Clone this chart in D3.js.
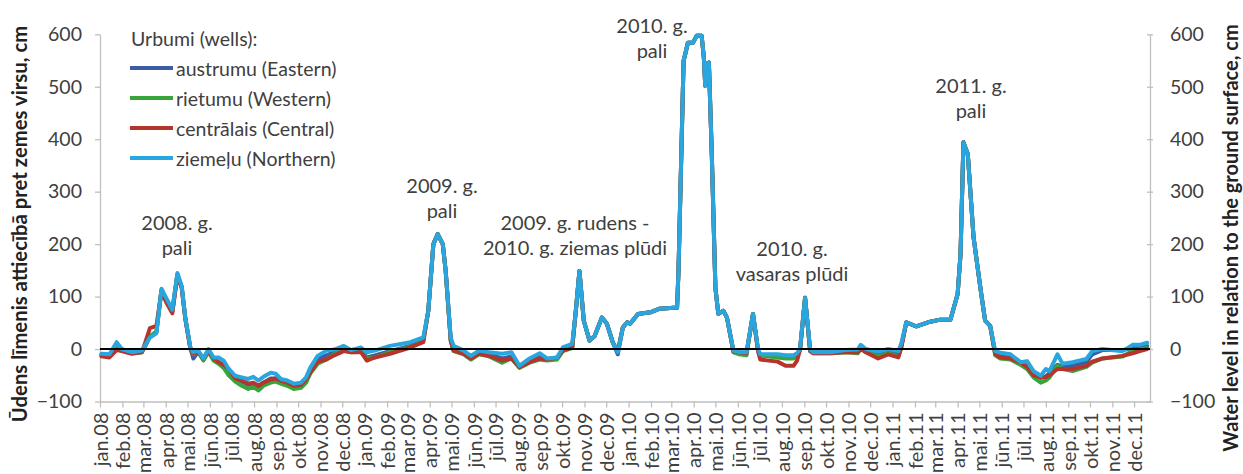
<!DOCTYPE html>
<html>
<head>
<meta charset="utf-8">
<script src="https://cdn.jsdelivr.net/npm/d3@7"></script>
<style>
  html, body { margin: 0; padding: 0; background: #ffffff; }
  svg { display: block; font-family: Lato, "Open Sans", sans-serif; }
</style>
</head>
<body>
<svg id="chart" width="1243" height="474"></svg>
<script>
// ---------------- DATA ----------------
const dates = [
  "2008-01-03","2008-01-14","2008-01-24","2008-01-31","2008-02-14","2008-02-28","2008-03-03","2008-03-10","2008-03-19","2008-03-26",
  "2008-04-02","2008-04-10","2008-04-17","2008-04-23","2008-04-28","2008-05-05","2008-05-09","2008-05-16","2008-05-23","2008-05-30",
  "2008-06-06","2008-06-13","2008-06-20","2008-06-27","2008-07-06","2008-07-15","2008-07-24","2008-07-31","2008-08-07","2008-08-14",
  "2008-08-24","2008-08-31","2008-09-07","2008-09-16","2008-09-25","2008-10-05","2008-10-12","2008-10-18","2008-10-28","2008-11-09",
  "2008-11-20","2008-12-03","2008-12-13","2008-12-27","2009-01-04","2009-01-15","2009-02-05","2009-03-05","2009-03-23","2009-03-30",
  "2009-04-06","2009-04-12","2009-04-19","2009-04-23","2009-04-30","2009-05-04","2009-05-18","2009-05-28","2009-06-08","2009-06-22",
  "2009-07-10","2009-07-23","2009-08-03","2009-08-17","2009-08-31","2009-09-10","2009-09-24","2009-10-02","2009-10-15","2009-10-20",
  "2009-10-25","2009-10-31","2009-11-08","2009-11-15","2009-11-25","2009-12-02","2009-12-10","2009-12-17","2009-12-24","2009-12-30",
  "2010-01-03","2010-01-14","2010-01-31","2010-02-13","2010-03-09","2010-03-11","2010-03-16","2010-03-18","2010-03-24","2010-03-31",
  "2010-04-05","2010-04-12","2010-04-15","2010-04-17","2010-04-19","2010-04-22","2010-04-26","2010-05-01","2010-05-05","2010-05-12",
  "2010-05-17","2010-05-26","2010-06-03","2010-06-13","2010-06-22","2010-06-29","2010-07-02","2010-07-26","2010-08-06","2010-08-17",
  "2010-08-22","2010-08-26","2010-09-02","2010-09-09","2010-09-13","2010-10-07","2010-10-28","2010-11-14","2010-11-18","2010-11-25",
  "2010-12-12","2010-12-26","2011-01-09","2011-01-13","2011-01-20","2011-02-03","2011-02-19","2011-03-08","2011-03-22","2011-04-01",
  "2011-04-05","2011-04-09","2011-04-15","2011-04-23","2011-05-03","2011-05-09","2011-05-16","2011-05-23","2011-05-30","2011-06-13",
  "2011-06-27","2011-07-06","2011-07-15","2011-07-25","2011-08-01","2011-08-06","2011-08-17","2011-08-24","2011-09-07","2011-09-26",
  "2011-10-04","2011-10-18","2011-11-15","2011-11-29","2011-12-09","2011-12-19"
];

const northern = [
  -9,-10,13,0,-6,-3,6,22,30,115,
  96,75,145,120,60,3,-6,-3,-18,0,
  -16,-16,-22,-38,-51,-54,-57,-53,-60,-53,
  -45,-47,-57,-60,-66,-64,-54,-35,-13,-3,
  -1,6,-2,3,-6,-3,6,13,22,73,
  200,219,200,149,22,6,-3,-13,-3,-6,
  -9,-6,-32,-18,-8,-18,-16,3,10,73,
  149,54,16,25,60,48,13,-6,41,51,
  48,67,70,77,79,150,435,549,584,584,
  597,597,556,502,544,546,372,117,67,73,
  60,-3,-6,-6,67,0,-10,-10,-12,-12,
  -8,0,98,0,-6,-6,-2,-1,8,0,
  -5,0,-4,10,51,43,51,56,56,105,
  181,394,372,213,111,54,44,-4,-7,-10,
  -25,-23,-42,-51,-38,-42,-10,-28,-25,-19,
  -4,0,-4,8,8,12
];

const eastern = [
  -10,-12,8,0,-6,-4,4,24,32,112,
  92,72,142,118,58,2,-18,-5,-20,-2,
  -20,-25,-32,-44,-55,-62,-68,-66,-72,-64,
  -56,-56,-62,-66,-70,-68,-60,-40,-20,-12,
  -6,2,-4,-2,-16,-12,-4,6,18,73,
  200,219,200,149,18,-2,-8,-16,-8,-10,
  -18,-14,-32,-22,-16,-20,-18,-2,4,73,
  149,54,16,25,60,48,13,-10,41,51,
  48,67,70,77,79,150,435,549,584,584,
  597,597,556,502,544,546,372,117,67,73,
  60,-6,-8,-8,67,-2,-12,-14,-16,-16,
  -10,-2,98,-2,-6,-6,-4,-5,4,-4,
  -10,-6,-10,6,51,43,51,56,56,105,
  181,394,372,213,111,54,44,-8,-14,-16,
  -26,-28,-46,-55,-52,-46,-30,-34,-32,-25,
  -10,-2,-2,2,3,6
];

const western = [
  -12,-14,2,-3,-8,-6,4,24,34,112,
  92,72,142,118,58,0,-10,-6,-22,-5,
  -22,-28,-36,-50,-62,-70,-76,-72,-79,-70,
  -64,-62,-66,-70,-76,-74,-64,-46,-28,-20,
  -10,-2,-6,-5,-18,-16,-6,4,14,73,
  200,219,200,149,16,-4,-10,-20,-10,-14,
  -26,-18,-36,-26,-20,-22,-20,-4,2,73,
  149,54,16,25,60,48,13,-4,41,51,
  48,67,70,77,79,150,435,549,584,584,
  597,597,556,502,544,546,372,117,67,73,
  60,-6,-10,-12,67,-4,-12,-16,-18,-18,
  -12,-2,98,-4,-8,-8,-6,-8,2,-6,
  -14,-8,-14,4,51,43,51,56,56,105,
  181,394,372,213,111,54,44,-12,-18,-20,
  -30,-38,-54,-64,-60,-54,-32,-38,-42,-34,
  -26,-18,-14,-4,-1,2
];

const central = [
  -14,-16,-2,-4,-9,-6,10,40,44,110,
  88,68,140,116,58,0,-8,-6,-18,-3,
  -18,-25,-30,-38,-56,-60,-66,-64,-70,-64,
  -58,-56,-60,-64,-70,-68,-58,-44,-24,-20,
  -12,-4,-6,-6,-22,-16,-9,3,13,73,
  200,219,200,149,16,-3,-9,-18,-9,-13,
  -22,-18,-34,-25,-18,-20,-16,-3,3,73,
  149,54,16,25,60,48,13,-4,41,51,
  48,67,70,77,79,150,435,549,584,584,
  597,597,556,502,544,546,372,117,67,73,
  60,-4,-6,-8,67,-4,-20,-24,-32,-32,
  -22,-2,98,-4,-8,-8,-6,-6,0,-6,
  -18,-10,-16,2,51,43,51,56,56,105,
  181,394,372,213,111,54,44,-10,-16,-18,
  -26,-34,-50,-54,-54,-50,-38,-38,-38,-32,
  -24,-18,-13,-8,-4,0
];

const seriesNames = ["austrumu (Eastern)", "rietumu (Western)", "centrālais (Central)", "ziemeļu (Northern)"];
const seriesValues = [eastern, western, central, northern];
const monthNames = ["jan","feb","mar","apr","mai","jūn","jūl","aug","sep","okt","nov","dec"];
const yTicks = [-100, 0, 100, 200, 300, 400, 500, 600];
const annotationLines = [
  ["2008. g.", "pali"],
  ["2009. g.", "pali"],
  ["2009. g. rudens -", "2010. g. ziemas plūdi"],
  ["2010. g.", "pali"],
  ["2010. g.", "vasaras plūdi"],
  ["2011. g.", "pali"]
];

// ---------------- LAYOUT / STYLE ----------------
const W = 1243, H = 474;
const plot = { left: 100, right: 1150, top: 34.3, bottom: 401.5 };
const colors = ["#3a5da6", "#37a53a", "#b5342c", "#29a6de"];
const textColor = "#404040";
const axisColor = "#bfbfbf";
const annotationPos = [
  { x: 177, y: 222 }, { x: 442, y: 185 }, { x: 575, y: 222 },
  { x: 652, y: 25 }, { x: 792, y: 248 }, { x: 971, y: 85 }
];

const parse = d3.timeParse("%Y-%m-%d");
const dateObjs = dates.map(parse);

const svg = d3.select("#chart");
svg.append("rect").attr("width", W).attr("height", H).attr("fill", "#ffffff");

const x = d3.scaleTime()
  .domain([new Date(2008, 0, 1), new Date(2011, 11, 23)])
  .range([plot.left, plot.right]);
const y = d3.scaleLinear().domain([-100, 600]).range([plot.bottom, plot.top]);

// Left axis
const gL = svg.append("g").attr("transform", `translate(${plot.left},0)`)
  .call(d3.axisLeft(y).tickValues(yTicks).tickSize(5).tickPadding(13).tickSizeOuter(0));
// Right axis
const gR = svg.append("g").attr("transform", `translate(${plot.right},0)`)
  .call(d3.axisRight(y).tickValues(yTicks).tickSize(3).tickPadding(17).tickSizeOuter(0));
gR.selectAll(".tick line").attr("x1", -3).attr("x2", 3);
// Bottom axis
const gB = svg.append("g").attr("transform", `translate(0,${plot.bottom})`)
  .call(d3.axisBottom(x).ticks(d3.timeMonth.every(1)).tickSize(6).tickSizeOuter(0)
    .tickFormat(d => monthNames[d.getMonth()] + "." + String(d.getFullYear()).slice(2)));
gB.selectAll(".tick text")
  .attr("transform", "rotate(-90)")
  .attr("text-anchor", "end")
  .attr("x", -11).attr("y", 0).attr("dy", "0.36em");

[gL, gR, gB].forEach(g => {
  g.select(".domain").attr("stroke", axisColor).attr("stroke-width", 1.3);
  g.selectAll(".tick line").attr("stroke", axisColor).attr("stroke-width", 1.3);
  g.selectAll(".tick text").attr("fill", textColor).attr("font-family", "Lato, sans-serif");
});
gL.selectAll(".tick text").attr("font-size", 19.5);
gR.selectAll(".tick text").attr("font-size", 19.5);
gB.selectAll(".tick text").attr("font-size", 20);

// Axis titles
svg.append("text")
  .attr("transform", `translate(19,224) rotate(-90)`)
  .attr("text-anchor", "middle").attr("dominant-baseline", "central")
  .attr("font-weight", "bold").attr("font-size", 20.3).attr("fill", "#222")
  .text("Ūdens līmenis attiecībā pret zemes virsu, cm");
svg.append("text")
  .attr("transform", `translate(1230,238) rotate(-90)`)
  .attr("text-anchor", "middle").attr("dominant-baseline", "central")
  .attr("font-weight", "bold").attr("font-size", 20).attr("fill", "#222")
  .text("Water level in relation to the ground surface, cm");

// Series
const line = d3.line()
  .x((d, i) => x(dateObjs[i]))
  .y(d => y(d))
  .curve(d3.curveLinear);
seriesValues.forEach((vals, k) => {
  svg.append("path")
    .datum(vals)
    .attr("d", line)
    .attr("fill", "none")
    .attr("stroke", colors[k])
    .attr("stroke-width", 4)
    .attr("stroke-linejoin", "round")
    .attr("stroke-linecap", "round");
});

// Zero line
svg.append("line")
  .attr("x1", plot.left).attr("x2", plot.right)
  .attr("y1", y(0)).attr("y2", y(0))
  .attr("stroke", "#000").attr("stroke-width", 2);

// Legend
const lg = svg.append("g").attr("font-size", 19.5).attr("fill", textColor);
lg.append("text").attr("x", 131).attr("y", 38).attr("dominant-baseline", "central").text("Urbumi (wells):");
seriesNames.forEach((name, k) => {
  const yy = 68 + k * 30;
  lg.append("line").attr("x1", 130).attr("x2", 173).attr("y1", yy).attr("y2", yy)
    .attr("stroke", colors[k]).attr("stroke-width", 4);
  lg.append("text").attr("x", 176).attr("y", yy).attr("dominant-baseline", "central").text(name);
});

// Annotations
annotationLines.forEach((lines, i) => {
  const p = annotationPos[i];
  const t = svg.append("text").attr("text-anchor", "middle").attr("fill", textColor).attr("font-size", 20);
  lines.forEach((l, j) => {
    t.append("tspan").attr("x", p.x).attr("y", p.y + j * 25).attr("dominant-baseline", "central").text(l);
  });
});
</script>
</body>
</html>
